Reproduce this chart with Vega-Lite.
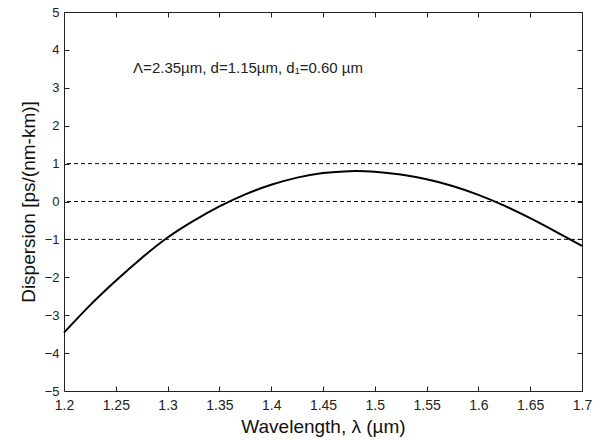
{
  "$schema": "https://vega.github.io/schema/vega-lite/v6.json",
  "width": 518,
  "height": 379,
  "autosize": {"type": "none"},
  "padding": {"left": 64, "top": 12, "right": 19, "bottom": 49},
  "background": "white",
  "config": {
    "view": {"stroke": null},
    "font": "Liberation Sans",
    "axis": {
      "grid": false,
      "domainColor": "#222222",
      "domainWidth": 1,
      "tickColor": "#222222",
      "tickSize": -5,
      "tickWidth": 1,
      "labelColor": "#222222",
      "labelFont": "Liberation Sans",
      "titleFont": "Liberation Sans",
      "titleColor": "#111111",
      "titleFontWeight": "normal"
    }
  },
  "datasets": {
    "curve": [
      {"lambda": 1.200, "D": -3.46},
      {"lambda": 1.225, "D": -2.74},
      {"lambda": 1.250, "D": -2.09},
      {"lambda": 1.275, "D": -1.49},
      {"lambda": 1.300, "D": -0.95},
      {"lambda": 1.325, "D": -0.51},
      {"lambda": 1.350, "D": -0.13},
      {"lambda": 1.375, "D": 0.19},
      {"lambda": 1.400, "D": 0.44},
      {"lambda": 1.425, "D": 0.63},
      {"lambda": 1.450, "D": 0.75},
      {"lambda": 1.475, "D": 0.80},
      {"lambda": 1.500, "D": 0.785},
      {"lambda": 1.525, "D": 0.71},
      {"lambda": 1.550, "D": 0.585},
      {"lambda": 1.575, "D": 0.41},
      {"lambda": 1.600, "D": 0.175},
      {"lambda": 1.625, "D": -0.11},
      {"lambda": 1.650, "D": -0.44},
      {"lambda": 1.675, "D": -0.80},
      {"lambda": 1.700, "D": -1.17}
    ],
    "refs": [{"D": -1}, {"D": 0}, {"D": 1}],
    "note": [{"lambda": 1.2667, "D": 3.52, "label": "Λ=2.35µm,  d=1.15µm, d₁=0.60 µm"}]
  },
  "layer": [
    {
      "data": {"name": "refs"},
      "mark": {"type": "rule", "color": "#111111", "strokeWidth": 1, "strokeDash": [4, 3]},
      "encoding": {
        "y": {"field": "D", "type": "quantitative", "scale": {"domain": [-5, 5], "nice": false, "zero": false}, "axis": null}
      }
    },
    {
      "data": {"name": "curve"},
      "mark": {"type": "line", "color": "black", "strokeWidth": 2, "interpolate": "natural"},
      "encoding": {
        "x": {
          "field": "lambda", "type": "quantitative",
          "scale": {"domain": [1.2, 1.7], "nice": false, "zero": false},
          "axis": {
            "orient": "bottom",
            "values": [1.2, 1.25, 1.3, 1.35, 1.4, 1.45, 1.5, 1.55, 1.6, 1.65, 1.7],
            "format": "~g",
            "labelFontSize": 14,
            "labelPadding": 12,
            "labelFlush": false,
            "title": "Wavelength, λ (µm)",
            "titleFontSize": 19,
            "titleBaseline": "alphabetic",
            "titleY": 41
          }
        },
        "y": {
          "field": "D", "type": "quantitative",
          "scale": {"domain": [-5, 5], "nice": false, "zero": false},
          "axis": {
            "orient": "left",
            "values": [-5, -4, -3, -2, -1, 0, 1, 2, 3, 4, 5],
            "labelFontSize": 13,
            "labelPadding": 10,
            "labelFlush": false,
            "title": "Dispersion [ps/(nm-km)]",
            "titleFontSize": 19,
            "titleBaseline": "alphabetic",
            "titleX": -30
          }
        }
      }
    },
    {
      "data": {"name": "curve"},
      "mark": {"type": "point", "opacity": 0},
      "encoding": {
        "x": {
          "field": "lambda", "type": "quantitative",
          "scale": {"domain": [1.2, 1.7], "nice": false, "zero": false},
          "axis": {"orient": "top", "values": [1.2, 1.25, 1.3, 1.35, 1.4, 1.45, 1.5, 1.55, 1.6, 1.65, 1.7], "labels": false, "title": null}
        },
        "y": {
          "field": "D", "type": "quantitative",
          "scale": {"domain": [-5, 5], "nice": false, "zero": false},
          "axis": {"orient": "right", "values": [-5, -4, -3, -2, -1, 0, 1, 2, 3, 4, 5], "labels": false, "title": null}
        }
      }
    },
    {
      "data": {"name": "note"},
      "mark": {"type": "text", "align": "left", "baseline": "middle", "font": "Liberation Sans", "fontSize": 15, "color": "#222222"},
      "encoding": {
        "x": {"field": "lambda", "type": "quantitative", "scale": {"domain": [1.2, 1.7], "nice": false, "zero": false}, "axis": null},
        "y": {"field": "D", "type": "quantitative", "scale": {"domain": [-5, 5], "nice": false, "zero": false}, "axis": null},
        "text": {"field": "label"}
      }
    }
  ],
  "resolve": {"axis": {"x": "independent", "y": "independent"}}
}
